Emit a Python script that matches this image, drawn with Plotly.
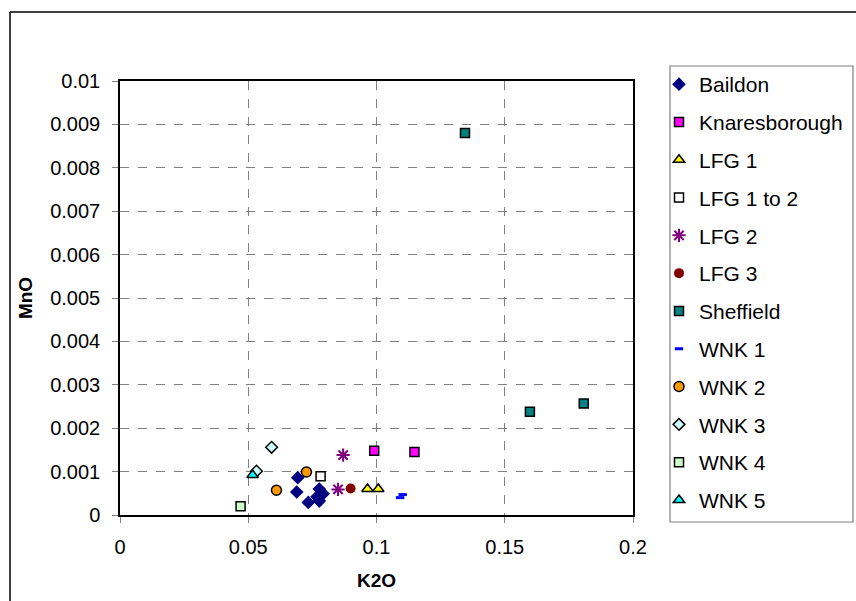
import plotly.graph_objects as go

# ---- data (K2O, MnO) ----
baildon_x = [0.0693, 0.0689, 0.0734, 0.0777, 0.0792, 0.0777, 0.0768]
baildon_y = [0.00086, 0.00053, 0.00029, 0.00060, 0.00049, 0.00032, 0.00042]
knares_x = [0.0991, 0.1148]
knares_y = [0.00148, 0.00145]
lfg1_x = [0.0965, 0.1007]
lfg1_y = [0.00060, 0.00060]
lfg1to2_x = [0.0782]
lfg1to2_y = [0.00089]
lfg2_x = [0.0870, 0.0850]
lfg2_y = [0.00138, 0.00059]
lfg3_x = [0.0899]
lfg3_y = [0.00061]
sheff_x = [0.1345, 0.1598, 0.1808]
sheff_y = [0.00880, 0.00238, 0.00257]
wnk1_x = [0.1092, 0.1102]
wnk1_y = [0.00040, 0.00047]
wnk2_x = [0.0610, 0.0727]
wnk2_y = [0.00057, 0.00099]
wnk3_x = [0.0591, 0.0532]
wnk3_y = [0.00156, 0.00101]
wnk4_x = [0.0470]
wnk4_y = [0.00020]
wnk5_x = [0.0517]
wnk5_y = [0.00092]

x_ticks = [0, 0.05, 0.1, 0.15, 0.2]
y_ticks = [0, 0.001, 0.002, 0.003, 0.004, 0.005, 0.006, 0.007, 0.008, 0.009, 0.01]

FONT = "Liberation Sans, Arial, sans-serif"

series = [
    ("Baildon", baildon_x, baildon_y, dict(symbol="diamond", size=10.5, color="#000080", line=dict(width=0))),
    ("Knaresborough", knares_x, knares_y, dict(symbol="square", size=9, color="#FF00FF", line=dict(width=1.5, color="black"))),
    ("LFG 1", lfg1_x, lfg1_y, dict(symbol="triangle-up", size=10, color="#FFFF00", line=dict(width=1.5, color="black"))),
    ("LFG 1 to 2", lfg1to2_x, lfg1to2_y, dict(symbol="square", size=9, color="white", line=dict(width=1.5, color="black"))),
    ("LFG 2", lfg2_x, lfg2_y, dict(symbol="asterisk-open", size=11, color="#800080", line=dict(width=2, color="#800080"))),
    ("LFG 3", lfg3_x, lfg3_y, dict(symbol="circle", size=10, color="#800000", line=dict(width=0))),
    ("Sheffield", sheff_x, sheff_y, dict(symbol="square", size=9, color="#008080", line=dict(width=1.5, color="black"))),
    ("WNK 1", wnk1_x, wnk1_y, dict(symbol="line-ew-open", size=6, color="#0000FF", line=dict(width=3, color="#0000FF"))),
    ("WNK 2", wnk2_x, wnk2_y, dict(symbol="circle", size=10, color="#FF9900", line=dict(width=1.5, color="black"))),
    ("WNK 3", wnk3_x, wnk3_y, dict(symbol="diamond", size=9, color="#CCFFFF", line=dict(width=1.5, color="black"))),
    ("WNK 4", wnk4_x, wnk4_y, dict(symbol="square", size=9, color="#CCFFCC", line=dict(width=1.5, color="black"))),
    ("WNK 5", wnk5_x, wnk5_y, dict(symbol="triangle-up", size=10, color="#00FFFF", line=dict(width=1.5, color="black"))),
]

fig = go.Figure()
for i, (name, xs, ys, mk) in enumerate(series):
    fig.add_trace(go.Scatter(x=xs, y=ys, mode="markers", name=name, marker=mk,
                             legendgroup=f"g{i}", cliponaxis=False))

W, H = 856, 601
ml, mr, mt, mb = 120, 223, 81, 86
pw, ph = W - ml - mr, H - mt - mb

def px(xp):
    return (xp - ml) / pw

def py(yp):
    return (H - mb - yp) / ph

shapes = [
    # outer chart border (left and top visible)
    dict(type="line", xref="paper", yref="paper", x0=px(10), x1=px(10), y0=py(12), y1=py(620),
         line=dict(color="black", width=1.5)),
    dict(type="line", xref="paper", yref="paper", x0=px(10), x1=px(870), y0=py(12), y1=py(12),
         line=dict(color="black", width=1.5)),
    # legend box
    dict(type="rect", xref="paper", yref="paper", x0=px(670), x1=px(853), y0=py(66), y1=py(522),
         line=dict(color="#808080", width=1.2), fillcolor="rgba(0,0,0,0)"),
]

fig.update_layout(
    width=W, height=H,
    margin=dict(l=ml, r=mr, t=mt, b=mb, pad=0, autoexpand=False),
    paper_bgcolor="white", plot_bgcolor="white",
    font=dict(family=FONT, size=20, color="black"),
    showlegend=True,
    legend=dict(x=px(659), y=py(64), xanchor="left", yanchor="top",
                traceorder="grouped", tracegroupgap=7.5, maxheight=600,
                font=dict(family=FONT, size=21, color="black"),
                bgcolor="rgba(0,0,0,0)", borderwidth=0, itemsizing="trace"),
    shapes=shapes,
    xaxis=dict(range=[0, 0.2], tickvals=x_ticks, tickformat="~g",
               showgrid=True, gridcolor="#808080", gridwidth=1, griddash="dash",
               zeroline=False, showline=True, linecolor="black", linewidth=1.5, mirror=True,
               ticks="outside", ticklen=6, tickcolor="#808080", ticklabelstandoff=7,
               title=dict(text="<b>K2O</b>", font=dict(family=FONT, size=19), standoff=17)),
    yaxis=dict(range=[0, 0.01], tickvals=y_ticks, tickformat="~g",
               showgrid=True, gridcolor="#808080", gridwidth=1, griddash="dash",
               zeroline=False, showline=True, linecolor="black", linewidth=1.5, mirror=True,
               ticks="outside", ticklen=6, tickcolor="#808080", ticklabelstandoff=8,
               title=dict(text="<b>MnO</b>", font=dict(family=FONT, size=19), standoff=13)),
)

fig.write_html("out.html")
